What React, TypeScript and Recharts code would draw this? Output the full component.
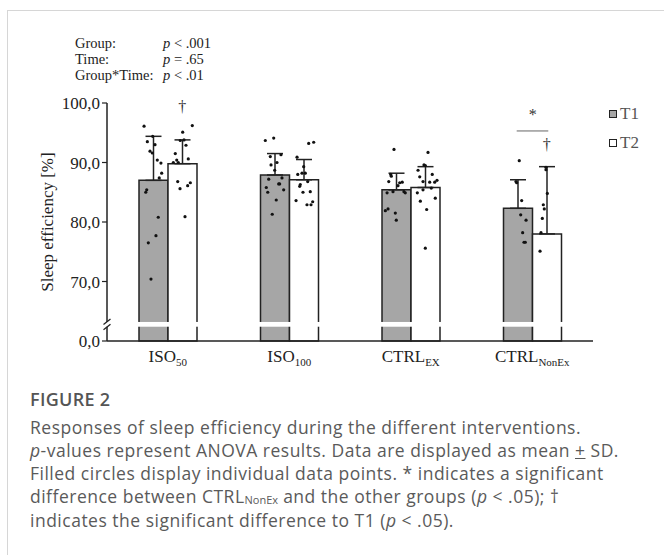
import React from "react";
import {
  ComposedChart,
  Bar,
  ErrorBar,
  Scatter,
  XAxis,
  YAxis,
  ReferenceArea,
  ReferenceLine,
} from "recharts";

// groups and their tick labels (main text + subscript)
const groupMain = ["ISO", "ISO", "CTRL", "CTRL"];
const groupSub = ["50", "100", "EX", "NonEx"];
const groupKeys = ["ISO50", "ISO100", "CTRLEX", "CTRLNonEx"];

// means and SD (upward whisker only)
const t1Mean = [87.0, 87.9, 85.4, 82.3];
const t1Sd = [7.4, 3.6, 2.8, 4.8];
const t2Mean = [89.8, 87.1, 85.8, 78.0];
const t2Sd = [4.0, 3.4, 3.5, 11.3];

// y ticks; the lowest one stands for 0,0 below the axis break
const yTicks = [60, 70, 80, 90, 100];

// individual data points: [x position on 0..4 group scale, value]
const iso50T1 = [
  [0.305, 96.1], [0.332, 93.5], [0.376, 94.4], [0.395, 93.0], [0.354, 91.9],
  [0.373, 91.6], [0.414, 90.4], [0.444, 89.9], [0.45, 88.2], [0.43, 87.4],
  [0.327, 85.4], [0.319, 85.0], [0.422, 80.8], [0.403, 77.7], [0.34, 76.5],
  [0.362, 70.4],
];
const iso50T2 = [
  [0.702, 96.2], [0.623, 95.1], [0.603, 93.7], [0.634, 93.8], [0.65, 92.9],
  [0.562, 91.5], [0.669, 90.6], [0.546, 90.0], [0.574, 90.4], [0.587, 90.0],
  [0.582, 86.8], [0.601, 85.6], [0.664, 86.1], [0.686, 86.6], [0.642, 80.9],
];
const iso100T1 = [
  [1.303, 93.7], [1.372, 94.1], [1.344, 91.0], [1.432, 91.3], [1.35, 89.6],
  [1.399, 90.0], [1.38, 88.7], [1.331, 87.2], [1.44, 87.4], [1.413, 86.4],
  [1.421, 86.4], [1.311, 85.8], [1.323, 85.0], [1.454, 85.4], [1.393, 83.7],
  [1.36, 81.3],
];
const iso100T2 = [
  [1.66, 93.2], [1.701, 93.4], [1.564, 90.9], [1.619, 89.3], [1.605, 88.2],
  [1.57, 88.0], [1.632, 88.2], [1.652, 86.8], [1.591, 86.3], [1.586, 86.0],
  [1.613, 85.0], [1.673, 85.1], [1.556, 83.6], [1.646, 82.9], [1.679, 82.9],
  [1.693, 83.4],
];
const ctrlExT1 = [
  [2.362, 92.2], [2.335, 88.0], [2.34, 87.7], [2.319, 86.8], [2.409, 86.6],
  [2.43, 86.7], [2.395, 86.1], [2.354, 85.1], [2.305, 84.9], [2.444, 85.1],
  [2.455, 84.9], [2.291, 81.9], [2.313, 82.2], [2.373, 81.5], [2.381, 80.3],
];
const ctrlExT2 = [
  [2.642, 91.7], [2.609, 89.6], [2.62, 89.5], [2.56, 88.7], [2.677, 88.0],
  [2.574, 87.6], [2.601, 86.8], [2.656, 86.7], [2.697, 86.7], [2.716, 87.0],
  [2.669, 85.7], [2.601, 85.4], [2.554, 84.9], [2.702, 84.0], [2.579, 83.5],
  [2.631, 82.1], [2.62, 75.6],
];
const ctrlNonExT1 = [
  [3.393, 90.3], [3.366, 86.8], [3.372, 86.6], [3.413, 83.6], [3.405, 81.2],
  [3.449, 80.3], [3.421, 78.2], [3.432, 76.6], [3.443, 76.6],
];
const ctrlNonExT2 = [
  [3.613, 89.2], [3.613, 88.8], [3.624, 84.8], [3.591, 82.9], [3.599, 82.2],
  [3.583, 80.6], [3.572, 78.2], [3.564, 75.1],
];

// significance marks: [x, y, symbol]
const marks: [number, number, string][] = [
  [0.62, 99.4, "†"],
  [3.504, 98.0, "*"],
  [3.619, 93.0, "†"],
];
const starLine = { x1: 3.372, x2: 3.632, y: 95.3 };

const SERIF = "'Liberation Serif', 'Times New Roman', serif";
const INK = "#222";

const chartData = groupKeys.map((k, i) => ({
  name: k,
  t1: t1Mean[i],
  t2: t2Mean[i],
  t1err: [0, t1Sd[i]],
  t2err: [0, t2Sd[i]],
}));

const pointData = [
  iso50T1, iso50T2, iso100T1, iso100T2,
  ctrlExT1, ctrlExT2, ctrlNonExT1, ctrlNonExT2,
].flat().map(([x, y]) => ({ x, y }));

const markData = marks.map(([x, y, s]) => ({ x, y, s }));

const GroupTick = (props: any) => {
  const { x, y, payload } = props;
  const i = groupKeys.indexOf(payload.value);
  return (
    <text x={x} y={y + 13} textAnchor="middle" fontFamily={SERIF} fontSize={17} fill={INK}>
      <tspan>{groupMain[i]}</tspan>
      <tspan dy={4} fontSize={11}>{groupSub[i]}</tspan>
    </text>
  );
};

const fmtY = (v: number) => (v === 60 ? "0,0" : v.toFixed(1).replace(".", ","));

const Dot = (props: any) => <circle cx={props.cx} cy={props.cy} r={1.6} fill="#111" />;

const MarkShape = (props: any) => (
  <text
    x={props.cx}
    y={props.cy}
    textAnchor="middle"
    dominantBaseline="central"
    fontFamily={SERIF}
    fontSize={16}
    fill="#333"
  >
    {props.payload.s}
  </text>
);

// white gap through bars + slashes on the y axis
const BreakShape = (props: any) => {
  const { x, y, width, height } = props;
  return (
    <g>
      <rect x={x - 5} y={y} width={width + 6} height={height} fill="#fff" />
      <line x1={x - 3.5} y1={y + 2.5} x2={x + 3.5} y2={y - 3} stroke={INK} strokeWidth={1.3} />
      <line x1={x - 3.5} y1={y + height + 3} x2={x + 3.5} y2={y + height - 2.5} stroke={INK} strokeWidth={1.3} />
    </g>
  );
};

const YLabel = (props: any) => {
  const vb = props.viewBox;
  const cx = vb.x;
  const cy = vb.y + vb.height / 2;
  return (
    <text
      x={cx}
      y={cy}
      transform={`rotate(-90 ${cx} ${cy})`}
      textAnchor="middle"
      dominantBaseline="central"
      fontFamily={SERIF}
      fontSize={17}
      fill={INK}
    >
      Sleep efficiency [%]
    </text>
  );
};

const statRows = [
  ["Group:", "<", ".001"],
  ["Time:", "=", ".65"],
  ["Group*Time:", "<", ".01"],
];

const captionStyle: React.CSSProperties = {
  position: "absolute",
  left: 30,
  whiteSpace: "nowrap",
  fontFamily: "'Open Sans', sans-serif",
  fontSize: 17.5,
  letterSpacing: 0.5,
  color: "#5a5a5a",
  lineHeight: "23px",
};

export default function App() {
  return (
    <div
      style={{
        position: "absolute",
        left: 0,
        top: 0,
        width: 664,
        height: 555,
        overflow: "hidden",
        background: "#fff",
      }}
    >
      <div
        style={{
          position: "absolute",
          left: 7,
          top: 10,
          width: 700,
          height: 600,
          border: "1px solid #d6d6d6",
        }}
      />

      {statRows.map((r, i) => (
        <div
          key={r[0]}
          style={{
            position: "absolute",
            top: 35 + i * 16,
            left: 0,
            fontFamily: SERIF,
            fontSize: 14.5,
            lineHeight: "17px",
            color: INK,
          }}
        >
          <span style={{ position: "absolute", left: 75, whiteSpace: "nowrap" }}>{r[0]}</span>
          <span style={{ position: "absolute", left: 163, whiteSpace: "nowrap" }}>
            <i>p</i> {r[1]} {r[2]}
          </span>
        </div>
      ))}

      <div style={{ position: "absolute", left: 0, top: 0 }}>
        <ComposedChart
          width={664}
          height={380}
          data={chartData}
          margin={{ top: 103, right: 71, left: 47, bottom: 9 }}
          barGap={0}
        >
          <XAxis
            xAxisId="cat"
            dataKey="name"
            height={30}
            tickLine={false}
            axisLine={{ stroke: INK, strokeWidth: 1.5 }}
            tick={<GroupTick />}
            interval={0}
          />
          <XAxis xAxisId="pts" type="number" dataKey="x" domain={[0, 4]} hide />
          <YAxis
            width={60}
            domain={[60, 100]}
            ticks={yTicks}
            tickFormatter={fmtY}
            interval={0}
            tickSize={5}
            tickLine={{ stroke: INK, strokeWidth: 1.2 }}
            axisLine={{ stroke: INK, strokeWidth: 1.5 }}
            tick={{ fontFamily: SERIF, fontSize: 17, fill: INK }}
            label={<YLabel />}
          />
          <Bar
            xAxisId="cat"
            dataKey="t1"
            barSize={29}
            fill="#a6a6a6"
            stroke={INK}
            strokeWidth={1.5}
            isAnimationActive={false}
          >
            <ErrorBar dataKey="t1err" width={8} stroke={INK} strokeWidth={1.5} />
          </Bar>
          <Bar
            xAxisId="cat"
            dataKey="t2"
            barSize={29}
            fill="#fff"
            stroke={INK}
            strokeWidth={1.5}
            isAnimationActive={false}
          >
            <ErrorBar dataKey="t2err" width={8} stroke={INK} strokeWidth={1.5} />
          </Bar>
          <Scatter
            xAxisId="pts"
            data={pointData}
            dataKey="y"
            shape={<Dot />}
            isAnimationActive={false}
          />
          <Scatter
            xAxisId="pts"
            data={markData}
            dataKey="y"
            shape={<MarkShape />}
            isAnimationActive={false}
          />
          <ReferenceLine
            xAxisId="pts"
            segment={[
              { x: starLine.x1, y: starLine.y },
              { x: starLine.x2, y: starLine.y },
            ]}
            stroke="#666"
            strokeWidth={1}
          />
          <ReferenceArea
            xAxisId="pts"
            y1={62.4}
            y2={63.2}
            shape={<BreakShape />}
            zIndex={2000}
          />
        </ComposedChart>
      </div>

      {/* legend */}
      {["T1", "T2"].map((t, i) => (
        <div key={t} style={{ position: "absolute", left: 609, top: 104 + i * 29, height: 20 }}>
          <span
            style={{
              position: "absolute",
              left: 0,
              top: 6,
              width: 6,
              height: 6,
              border: `1.5px solid ${INK}`,
              background: i === 0 ? "#a6a6a6" : "#fff",
            }}
          />
          <span
            style={{
              position: "absolute",
              left: 11,
              top: 0,
              fontFamily: SERIF,
              fontSize: 17,
              lineHeight: "20px",
              color: "#555",
            }}
          >
            {t}
          </span>
        </div>
      ))}

      <div
        style={{
          ...captionStyle,
          top: 388,
          fontSize: 18,
          letterSpacing: 0.3,
          fontWeight: 600,
          color: "#555",
        }}
      >
        FIGURE 2
      </div>
      <div style={{ ...captionStyle, top: 416 }}>
        Responses of sleep efficiency during the different interventions.
      </div>
      <div style={{ ...captionStyle, top: 439 }}>
        <i>p</i>-values represent ANOVA results. Data are displayed as mean{" "}
        <span style={{ textDecoration: "underline" }}>+</span> SD.
      </div>
      <div style={{ ...captionStyle, top: 462 }}>
        Filled circles display individual data points. * indicates a significant
      </div>
      <div style={{ ...captionStyle, top: 485, height: 23 }}>
        difference between CTRL
        <span
          style={{
            fontSize: 11,
            lineHeight: "11px",
            letterSpacing: 0,
            position: "relative",
            top: 1,
          }}
        >
          NonEx
        </span>{" "}
        and the other groups (<i>p</i> &lt; .05); †
      </div>
      <div style={{ ...captionStyle, top: 509 }}>
        indicates the significant difference to T1 (<i>p</i> &lt; .05).
      </div>
    </div>
  );
}
